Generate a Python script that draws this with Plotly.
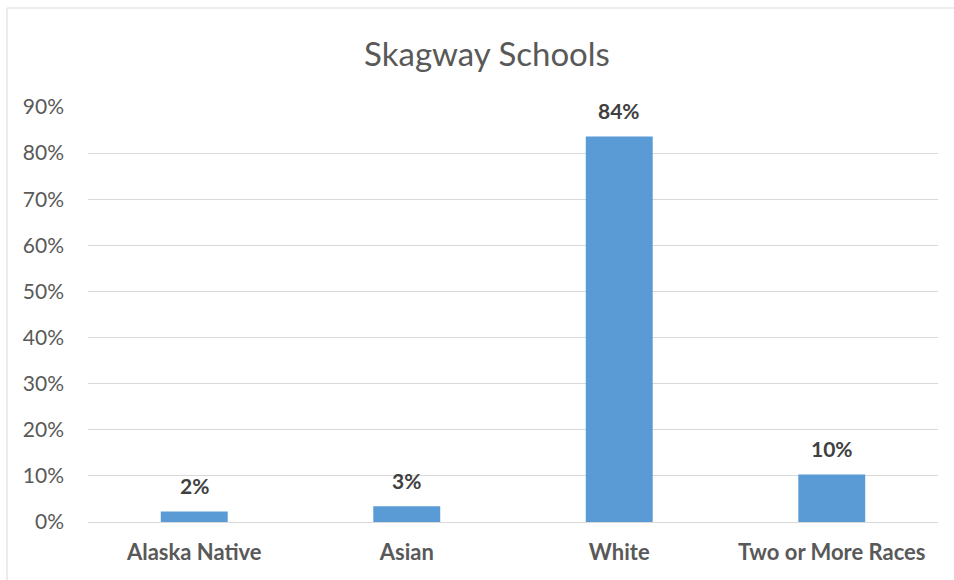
import plotly.graph_objects as go

categories = ["Alaska Native", "Asian", "White", "Two or More Races"]
values = [0.023, 0.034, 0.836, 0.103]
tick_vals = [0, 0.1, 0.2, 0.3, 0.4, 0.5, 0.6, 0.7, 0.8, 0.9]
title_text = "Skagway Schools"

W, H = 954, 580
L, R, T, B = 88, 16, 107, 58
pw, ph = W - L - R, H - T - B
FONT = "Lato, Noto Sans, sans-serif"

fig = go.Figure()
fig.add_trace(go.Bar(
    x=categories, y=values,
    marker=dict(color="#5b9bd5", line=dict(width=0)),
    hoverinfo="skip",
))

for c, v in zip(categories, values):
    fig.add_annotation(
        x=c, y=v, text=f"<b>{v:.0%}</b>", showarrow=False,
        yanchor="middle", yshift=26,
        font=dict(family=FONT, size=21, color="#404040"),
    )

# outer chart border
fig.add_shape(
    type="rect", xref="paper", yref="paper",
    x0=(7 - L) / pw, x1=(W + 5 - L) / pw,
    y0=(H - B - (H + 5)) / ph, y1=(H - B - 8) / ph,
    line=dict(color="#d9d9d9", width=1), fillcolor="rgba(0,0,0,0)", layer="below",
)

fig.update_layout(
    width=W, height=H,
    margin=dict(l=L, r=R, t=T, b=B),
    paper_bgcolor="white", plot_bgcolor="white",
    bargap=0.685,
    showlegend=False,
    font=dict(family=FONT, color="#595959"),
    title=dict(
        text=title_text, x=487 / W, xanchor="center",
        y=1 - 54 / H, yanchor="middle",
        font=dict(family=FONT, size=33, color="#595959"),
    ),
    xaxis=dict(
        showgrid=False, zeroline=False, showline=False, ticks="",
        tickfont=dict(size=22, color="#595959", family=FONT, weight="bold"),
        ticklabelstandoff=15,
    ),
    yaxis=dict(
        range=[0, 0.9], tickvals=tick_vals, tickformat=".0%",
        showgrid=True, gridcolor="#d9d9d9", gridwidth=1,
        zeroline=True, zerolinecolor="#d9d9d9", zerolinewidth=1,
        showline=False, ticks="",
        tickfont=dict(size=21, color="#595959", family=FONT),
        ticklabelstandoff=23,
    ),
)

fig.write_html("out.html", config={"displayModeBar": False, "staticPlot": True})

# remove default page margin so the figure sits at the window origin
with open("out.html", "r", encoding="utf-8") as f:
    html = f.read()
html = html.replace("<body>", '<body style="margin:0;padding:0;overflow:hidden">', 1)
with open("out.html", "w", encoding="utf-8") as f:
    f.write(html)
